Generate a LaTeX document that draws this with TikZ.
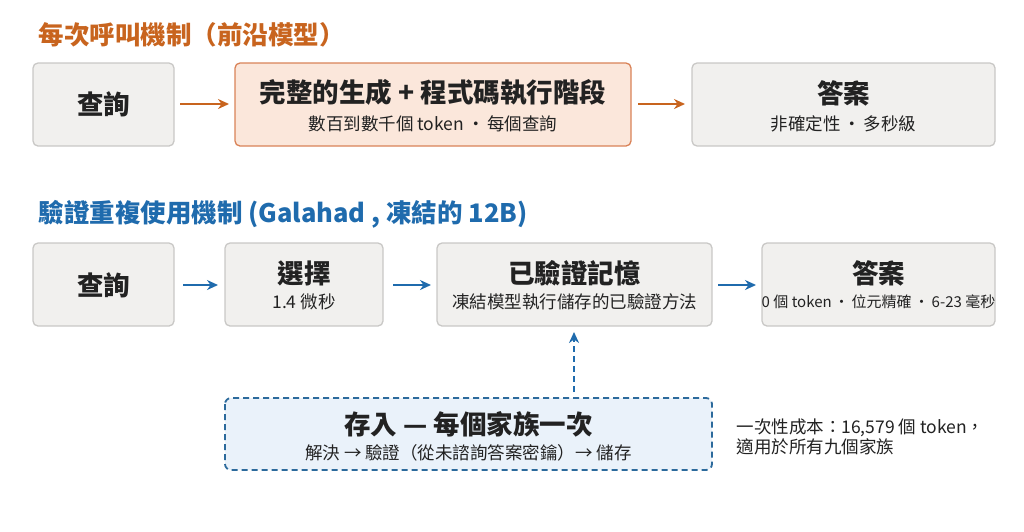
\documentclass[tikz,border=0pt]{standalone}
\usepackage{fontspec}
\setmainfont{Noto Sans CJK TC}
\usetikzlibrary{arrows.meta}
\definecolor{gfill}{HTML}{F1F0EE}
\definecolor{gline}{HTML}{C9C8C6}
\definecolor{ofill}{HTML}{FBE7DB}
\definecolor{oline}{HTML}{D98257}
\definecolor{otext}{HTML}{C8641E}
\definecolor{btext}{HTML}{1F6BAD}
\definecolor{bfill}{HTML}{EAF2FA}
\definecolor{bline}{HTML}{2C6A9C}
\definecolor{ink}{HTML}{222222}
\newcommand{\md}{\,·\,}
\begin{document}
\begin{tikzpicture}[x=1pt,y=-1pt,
 box/.style={draw=gline,fill=gfill,rounded corners=5pt,line width=1.3pt},
 big/.style={font=\fontsize{26.5}{30}\selectfont\bfseries,text=ink},
 small/.style={font=\fontsize{17.5}{20}\selectfont,text=ink},
 oarr/.style={-{Stealth[length=11pt,width=10pt]},line width=2pt,draw=otext},
 barr/.style={-{Stealth[length=11pt,width=10pt]},line width=2pt,draw=btext}]
\useasboundingbox (0,0) rectangle (1024,531);
\node[anchor=west,font=\fontsize{25.5}{28}\selectfont\bfseries,text=otext] (t1) at (35,35) {每次呼叫機制（前沿模型）};
\draw[box] (33,63) rectangle (174,146);
\node[big] (q1) at (103.5,104) {查詢};
\draw[box,draw=oline,fill=ofill] (235,63) rectangle (631,146);
\node[big] (g) at (433,93) {完整的生成 + 程式碼執行階段};
\node[small] (gs) at (433,124) {數百到數千個 token\md 每個查詢};
\draw[box] (692,63) rectangle (995,146);
\node[big] (a1) at (843.5,93) {答案};
\node[small] (a1s) at (843.5,124) {非確定性\md 多秒級};
\coordinate (o1a) at (180,104); \coordinate (o1b) at (229,104);
\coordinate (o2a) at (638,104); \coordinate (o2b) at (685,104);
\draw[oarr] (o1a) -- (o1b);
\draw[oarr] (o2a) -- (o2b);

\node[anchor=west,font=\fontsize{25.5}{28}\selectfont\bfseries,text=btext] (t2) at (35,214) {驗證重複使用機制 (Galahad , 凍結的 12B)};
\draw[box] (33,243) rectangle (174,326);
\node[big] (q2) at (103.5,285) {查詢};
\draw[box] (225,243) rectangle (383,326);
\node[big] (s) at (304,273) {選擇};
\node[small] (ss) at (304,302) {1.4 微秒};
\draw[box] (437,243) rectangle (712,326);
\node[big] (m) at (574.5,273) {已驗證記憶};
\node[small] (ms) at (574.5,302) {凍結模型執行儲存的已驗證方法};
\draw[box] (762,243) rectangle (995,326);
\node[big] (a2) at (878.5,273) {答案};
\node[font=\fontsize{15}{18}\selectfont,text=ink] (a2s) at (878.5,302) {0 個 token\md 位元精確\md 6-23 毫秒};
\coordinate (b1a) at (183,285); \coordinate (b1b) at (218,285);
\coordinate (b2a) at (393,285); \coordinate (b2b) at (431,285);
\coordinate (b3a) at (718,285); \coordinate (b3b) at (756,285);
\draw[barr] (b1a) -- (b1b);
\draw[barr] (b2a) -- (b2b);
\draw[barr] (b3a) -- (b3b);

\draw[draw=bline,fill=bfill,rounded corners=6pt,line width=1.8pt,dash pattern=on 6pt off 4pt] (225,398) rectangle (712,470);
\node[big] (st) at (468.5,424) {存入 — 每個家族一次};
\node[small] (sts) at (468.5,453) {解決 → 驗證（從未諮詢答案密鑰）→ 儲存};
\coordinate (da) at (574,392); \coordinate (db) at (574,332);
\draw[barr,dash pattern=on 6pt off 4pt] (da) -- (db);
\node[small,anchor=west,align=left] (note) at (733,437) {一次性成本：16,579 個 token，\\適用於所有九個家族};
\end{tikzpicture}
\end{document}
